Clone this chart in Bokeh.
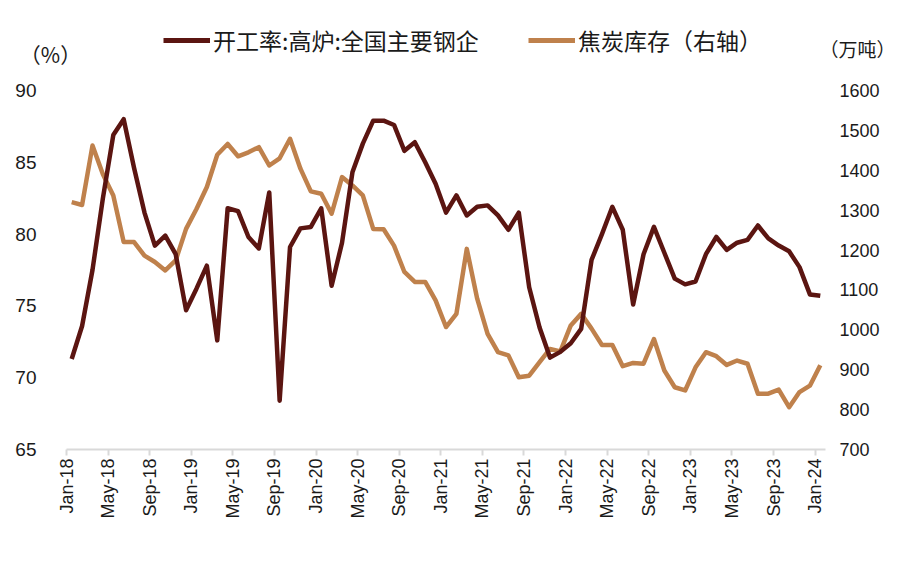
import math
from bokeh.plotting import figure
from bokeh.layouts import column, row
from bokeh.models import Range1d, LinearAxis, FixedTicker, Legend, LegendItem, Label
from bokeh.embed import file_html
from bokeh.resources import INLINE

# ---- data ----
month_names = ["Jan", "Feb", "Mar", "Apr", "May", "Jun", "Jul", "Aug", "Sep", "Oct", "Nov", "Dec"]
years = ["18", "19", "20", "21", "22", "23", "24"]
months = [f"{m}-{y}" for y in years for m in month_names][:73]  # Jan-18 .. Jan-24

tick_labels = ["Jan-18", "May-18", "Sep-18", "Jan-19", "May-19", "Sep-19", "Jan-20", "May-20",
               "Sep-20", "Jan-21", "May-21", "Sep-21", "Jan-22", "May-22", "Sep-22", "Jan-23",
               "May-23", "Sep-23", "Jan-24"]

blast_furnace_rate = [
    71.3, 73.6, 77.5, 82.5, 86.9, 88.0, 84.6, 81.5, 79.2, 79.9, 78.6, 74.7,
    76.2, 77.8, 72.6, 81.8, 81.6, 79.8, 79.0, 82.9, 68.4, 79.1, 80.4, 80.5,
    81.8, 76.4, 79.4, 84.3, 86.3, 87.9, 87.9, 87.6, 85.8, 86.4, 85.0, 83.5,
    81.5, 82.7, 81.3, 81.9, 82.0, 81.3, 80.3, 81.5, 76.3, 73.5, 71.4, 71.8,
    72.4, 73.4, 78.2, 80.0, 81.9, 80.3, 75.1, 78.6, 80.5, 78.7, 76.9, 76.5,
    76.7, 78.6, 79.8, 78.9, 79.4, 79.6, 80.6, 79.7, 79.2, 78.8, 77.7, 75.8,
    75.7,
]

coke_inventory = [
    1320, 1313, 1462, 1390, 1337, 1220, 1220, 1186, 1170, 1149, 1174, 1253,
    1303, 1358, 1439, 1466, 1435, 1445, 1458, 1412, 1430, 1479, 1404, 1347,
    1341, 1291, 1383, 1362, 1337, 1253, 1252, 1211, 1145, 1120, 1120, 1074,
    1007, 1040, 1203, 1078, 990, 944, 936, 881, 885, 919, 952, 946,
    1011, 1040, 1003, 962, 962, 909, 917, 915, 977, 898, 856, 848,
    906, 944, 934, 912, 923, 915, 840, 840, 850, 806, 844, 860,
    911,
]

left_ticks = [65, 70, 75, 80, 85, 90]
right_ticks = [700, 800, 900, 1000, 1100, 1200, 1300, 1400, 1500, 1600]

series_names = ["开工率:高炉:全国主要钢企", "焦炭库存（右轴）"]
left_unit = "（%）"
right_unit = "（万吨）"

BROWN = "#5B1511"
TAN = "#BF814C"
TEXT = "#1a1a1a"
NUM_FONT = "Liberation Sans"
CJK_FONT = "Noto Sans CJK SC"

W = 901
TOP_H = 70
MAIN_H = 491

# category centres
xs = [i + 0.5 for i in range(len(months))]
tick_pos = [months.index(lbl) for lbl in tick_labels]

# ---------- header strip (legend + unit labels) ----------
top = figure(width=W, height=TOP_H, output_backend="svg", toolbar_location=None,
             x_range=Range1d(0, W), y_range=Range1d(0, TOP_H),
             x_axis_location=None, y_axis_location=None,
             min_border=0, min_border_left=0, min_border_right=0,
             min_border_top=0, min_border_bottom=0)
top.outline_line_color = None
top.xgrid.visible = False
top.ygrid.visible = False

# key renderers for the legend (one point each, falls outside the strip's ranges)
k1 = top.line(xs[:1], blast_furnace_rate[:1], line_color=BROWN, line_width=5)
k2 = top.line(xs[:1], coke_inventory[:1], line_color=TAN, line_width=5)

for rend, name, xloc in [(k1, series_names[0], 163), (k2, series_names[1], 528)]:
    lg = Legend(items=[LegendItem(label=name, renderers=[rend])], location=(xloc, 13),
                orientation="horizontal")
    lg.label_text_font = CJK_FONT
    lg.label_text_font_size = "23px"
    lg.label_text_color = TEXT
    lg.glyph_width = 47
    lg.glyph_height = 24
    lg.label_height = 24
    lg.label_standoff = 3
    lg.padding = 0
    lg.margin = 0
    lg.border_line_color = None
    lg.background_fill_alpha = 0
    top.add_layout(lg)

top.add_layout(Label(x=50, y=TOP_H - 53, x_units="screen", y_units="screen", text=left_unit,
                     text_align="center", text_baseline="middle", text_font=CJK_FONT,
                     text_font_size="21px", text_color=TEXT))
top.add_layout(Label(x=857, y=TOP_H - 48, x_units="screen", y_units="screen", text=right_unit,
                     text_align="center", text_baseline="middle", text_font=CJK_FONT,
                     text_font_size="19px", text_color=TEXT))

# ---------- main chart ----------
p = figure(width=W, height=MAIN_H, output_backend="svg", toolbar_location=None,
           x_range=Range1d(0, len(months)), y_range=Range1d(65, 90),
           min_border_left=66, min_border_right=W - 825, min_border_top=90 - TOP_H,
           min_border_bottom=MAIN_H - (449 - TOP_H))
p.outline_line_color = None
p.xgrid.visible = False
p.ygrid.visible = False
p.extra_y_ranges = {"right": Range1d(700, 1600)}

ya = p.yaxis[0]
ya.ticker = FixedTicker(ticks=left_ticks)
ya.axis_line_color = None
ya.major_tick_line_color = None
ya.minor_tick_line_color = None
ya.major_label_standoff = 24
ya.major_label_text_font = NUM_FONT
ya.major_label_text_font_size = "19px"
ya.major_label_text_color = TEXT

ra = LinearAxis(y_range_name="right", ticker=FixedTicker(ticks=right_ticks))
ra.axis_line_color = None
ra.major_tick_line_color = None
ra.minor_tick_line_color = None
ra.major_label_standoff = 8
ra.major_label_text_font = NUM_FONT
ra.major_label_text_font_size = "18px"
ra.major_label_text_color = TEXT
p.add_layout(ra, "right")

xa = p.xaxis[0]
xa.ticker = FixedTicker(ticks=tick_pos)
xa.major_label_overrides = {pos: lbl for pos, lbl in zip(tick_pos, tick_labels)}
xa.major_label_orientation = math.pi / 2
xa.axis_line_color = "#d9d9d9"
xa.axis_line_width = 2
xa.major_tick_line_color = "#d9d9d9"
xa.major_tick_line_width = 2
xa.major_tick_out = 6
xa.major_tick_in = 0
xa.minor_tick_line_color = None
xa.major_label_standoff = 3
xa.major_label_text_font = NUM_FONT
xa.major_label_text_font_size = "18px"
xa.major_label_text_color = TEXT

p.line(xs, coke_inventory, y_range_name="right", line_color=TAN, line_width=4.5,
       line_join="round")
p.line(xs, blast_furnace_rate, line_color=BROWN, line_width=4.5, line_join="round")

layout = column(row(top), p, spacing=0)
open("out.html", "w").write(file_html(layout, INLINE))
